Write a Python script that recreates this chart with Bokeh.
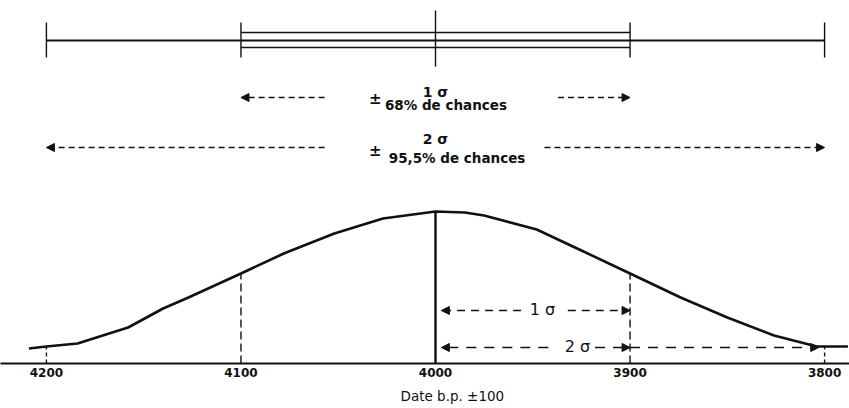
from bokeh.plotting import figure
from bokeh.models import Range1d, LinearAxis, FixedTicker, Arrow, NormalHead, Title
from bokeh.core.properties import value
from bokeh.embed import file_html
from bokeh.resources import INLINE

# ---- data ----
dates = [4209, 4200, 4184, 4158, 4140, 4127, 4100, 4078, 4052, 4027, 4000,
         3985, 3975, 3948, 3925, 3900, 3874, 3850, 3826, 3804, 3800, 3788]
heights = [15, 17, 20, 36, 55, 66, 90, 110, 130, 145, 152,
           151, 148, 134, 113, 90, 66, 46, 28, 17, 17, 17]
center_date = 4000
one_sigma = [4100, 3900]
two_sigma = [4200, 3800]
tick_dates = [4200, 4100, 4000, 3900, 3800]
label_1s = "68% de chances"
label_2s = "95,5% de chances"
axis_title = "Date b.p. \u00b1100"

INK = "#111111"
FONT = value("DejaVu Sans")

p = figure(frame_width=849, frame_height=363, output_backend="svg",
           toolbar_location=None,
           x_range=Range1d(4223.6, 3787.2), y_range=Range1d(0, 363),
           x_axis_location=None, y_axis_location=None,
           min_border_left=0, min_border_right=0, min_border_top=0,
           min_border_bottom=0, background_fill_color="white",
           border_fill_color="white")
p.outline_line_color = None
p.grid.visible = False

ax = LinearAxis(ticker=FixedTicker(ticks=tick_dates))
ax.axis_line_width = 2
ax.axis_line_color = INK
ax.major_tick_in = 0
ax.major_tick_out = 0
ax.minor_tick_in = 0
ax.minor_tick_out = 0
ax.major_label_standoff = 4
ax.major_label_text_font = "DejaVu Sans"
ax.major_label_text_font_style = "bold"
ax.major_label_text_font_size = "12px"
ax.major_label_text_color = INK
p.add_layout(ax, "below")

p.add_layout(Title(text=axis_title, align="left", offset=400,
                   text_font="DejaVu Sans", text_font_size="13.5px",
                   text_font_style="normal", text_color=INK, standoff=12),
             "below")

# ---- top error bar ----
p.segment(x0=[two_sigma[0]], y0=[323], x1=[two_sigma[1]], y1=[323],
          line_color=INK, line_width=1.8)
p.segment(x0=[one_sigma[0], one_sigma[0]], y0=[331, 316],
          x1=[one_sigma[1], one_sigma[1]], y1=[331, 316],
          line_color=INK, line_width=1.6)
ends = two_sigma + one_sigma
p.segment(x0=ends, y0=[341] * 4, x1=ends, y1=[306] * 4,
          line_color=INK, line_width=1.4)
p.segment(x0=[center_date], y0=[353], x1=[center_date], y1=[297],
          line_color=INK, line_width=1.4)

def arrow(xs, xe, y, w=1.5, dash="6 4", size=8):
    p.add_layout(Arrow(x_start=xs, y_start=y, x_end=xe, y_end=y,
                       line_color=INK, line_width=w, line_dash=dash,
                       end=NormalHead(size=size, fill_color=INK,
                                      line_color=INK, line_width=1)))

# 1 sigma arrow (top)
arrow(4057, one_sigma[0], 266)
arrow(3937, one_sigma[1], 266)
# 2 sigma arrow (top)
arrow(4057, two_sigma[0], 216)
arrow(3944, two_sigma[1], 216)

p.text(x=[4000, 4000], y=[272, 225], text=["1 \u03c3", "2 \u03c3"], text_font=FONT,
       text_font_size="14px", text_font_style="bold", text_color=INK,
       text_align="center", text_baseline="middle")
p.text(x=[4031, 4031], y=[265, 213], text=["\u00b1", "\u00b1"], text_font=FONT,
       text_font_size="15px", text_font_style="bold", text_color=INK,
       text_align="center", text_baseline="middle")
p.text(x=[4026, 4024], y=[259, 206], text=[label_1s, label_2s], text_font=FONT,
       text_font_size="13.5px", text_font_style="bold", text_color=INK,
       text_align="left", text_baseline="middle")

# ---- bell curve ----
p.line(dates, heights, line_color=INK, line_width=2.6)
p.segment(x0=[center_date], y0=[0], x1=[center_date], y1=[heights[dates.index(center_date)]],
          line_color=INK, line_width=2.4)
h1 = heights[dates.index(one_sigma[0])]
h2 = heights[dates.index(two_sigma[0])]
p.segment(x0=one_sigma, y0=[0, 0], x1=one_sigma, y1=[h1, h1],
          line_color=INK, line_width=1.4, line_dash="8 4")
p.segment(x0=two_sigma, y0=[0, 0], x1=two_sigma, y1=[h2, h2],
          line_color=INK, line_width=1.4, line_dash="4 3")

# bottom arrows
arrow(3956, 3997, 53, dash="8 6")
arrow(3932, one_sigma[1], 53, dash="8 6")
arrow(3942, 3997, 16, dash="10 8")
arrow(3918, one_sigma[1], 16, dash="10 8")
arrow(3900, 3803, 16, dash="10 8")
p.text(x=[3945, 3927], y=[54, 17], text=["1 \u03c3", "2 \u03c3"], text_font=FONT,
       text_font_size="16px", text_color=INK,
       text_align="center", text_baseline="middle")

open("out.html", "w").write(file_html(p, INLINE))
